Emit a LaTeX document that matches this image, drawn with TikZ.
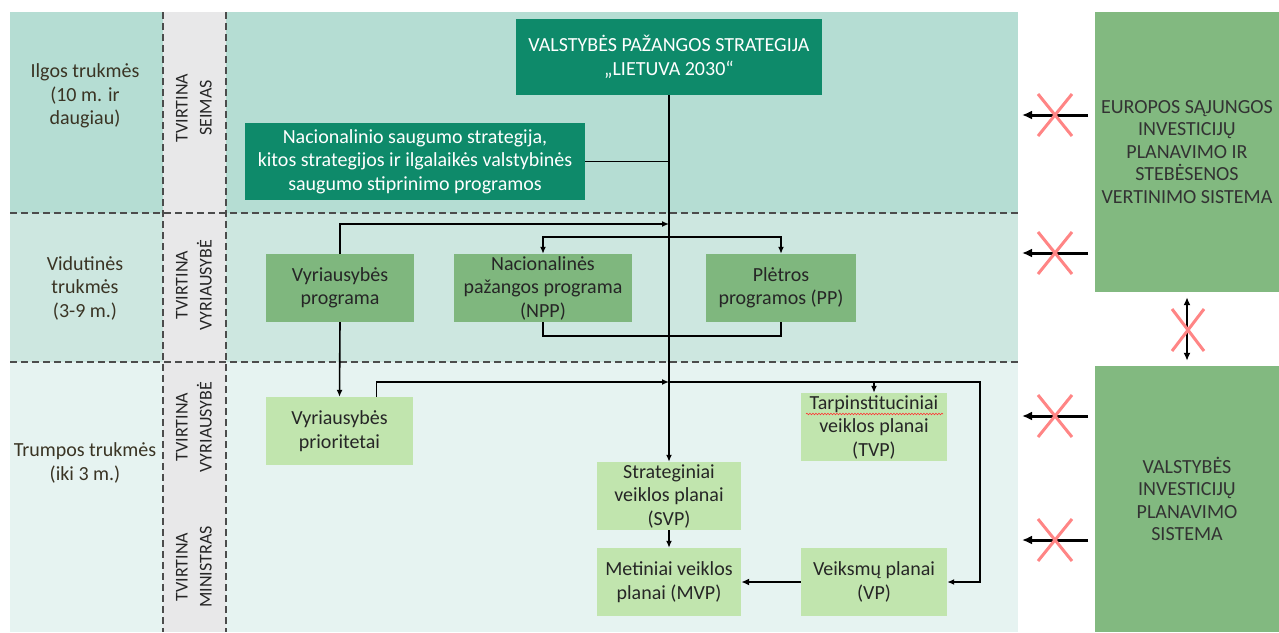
\documentclass[tikz,border=0pt]{standalone}
\usepackage{fontspec}
\setmainfont{Carlito}
\usetikzlibrary{arrows.meta, positioning, decorations.pathmorphing}

\definecolor{bandA}{HTML}{B5DDD3}
\definecolor{bandB}{HTML}{CDE7E0}
\definecolor{bandC}{HTML}{E6F3F1}
\definecolor{colgray}{HTML}{E8E8E9}
\definecolor{darkgreen}{HTML}{0E8A6A}
\definecolor{midgreen}{HTML}{7FB77E}
\definecolor{lightgreen}{HTML}{C1E5AE}
\definecolor{sidegreen}{HTML}{82B980}
\definecolor{crossred}{HTML}{FF8585}
\definecolor{labeltext}{HTML}{3A3424}

\begin{document}
\begin{tikzpicture}[x=1pt, y=-1pt,
  every node/.style={font=\fontsize{20}{23.5}\selectfont, align=center, inner sep=0pt},
  darkbox/.style={fill=darkgreen, text=white},
  midbox/.style={fill=midgreen, text=black!85},
  lightbox/.style={fill=lightgreen, text=black!85},
  sidebox/.style={fill=sidegreen, text=black!80, font=\fontsize{20}{22.5}\selectfont},
  sep/.style={draw=black!70, dash pattern=on 7pt off 4pt, line width=1.4pt},
  conn/.style={line width=1.6pt},
  arr/.style={conn, -{Latex[length=7pt,width=6pt]}},
  arrboth/.style={conn, {Latex[length=7pt,width=6pt]}-{Latex[length=7pt,width=6pt]}},
  sidearr/.style={line width=3pt, -{Latex[length=10pt,width=9pt]}},
  cross/.style={crossred, line width=3pt},
  rotlabel/.style={rotate=90, font=\fontsize{18}{24}\selectfont, text=black!85}
]
\useasboundingbox (0,0) rectangle (1279,632);

% laiko juostos
\fill[bandA] (10,12) rectangle (1018,213);
\fill[bandB] (10,213) rectangle (1018,362);
\fill[bandC] (10,362) rectangle (1018,632);
\fill[colgray] (163,12) rectangle (226,632);
\draw[sep] (163,12) -- (163,632) (226,12) -- (226,632);
\draw[sep] (10,213) -- (1018,213) (10,362) -- (1018,362);

\node[text=labeltext] (ilgos) at (85,96) {Ilgos trukmės\\(10 m. ir\\daugiau)};
\node[text=labeltext] (vidut) at (85,288) {Vidutinės\\trukmės\\(3-9 m.)};
\node[text=labeltext] (trump) at (85,463) {Trumpos trukmės\\(iki 3 m.)};

\node[rotlabel] (tseimas) at (194,108) {TVIRTINA\\SEIMAS};
\node[rotlabel] (tvyr1) at (194,285) {TVIRTINA\\VYRIAUSYBĖ};
\node[rotlabel] (tvyr2) at (194,427) {TVIRTINA\\VYRIAUSYBĖ};
\node[rotlabel] (tmin) at (194,567) {TVIRTINA\\MINISTRAS};

% dokumentai
\node[darkbox, minimum width=306pt, minimum height=76pt] (vps) at (669,57)
  {VALSTYBĖS PAŽANGOS STRATEGIJA\\„LIETUVA 2030“};
\node[darkbox, minimum width=340pt, minimum height=77pt] (nss) at (415,161.5)
  {Nacionalinio saugumo strategija,\\kitos strategijos ir ilgalaikės valstybinės\\saugumo stiprinimo programos};
\node[midbox, minimum width=148pt, minimum height=68pt] (vpg) at (340,288) {Vyriausybės\\programa};
\node[midbox, minimum width=178pt, minimum height=68pt] (npp) at (543,288) {Nacionalinės\\pažangos programa\\(NPP)};
\node[midbox, minimum width=150pt, minimum height=68pt] (pp) at (781,288) {Plėtros\\programos (PP)};
\node[lightbox, minimum width=147pt, minimum height=68pt] (vpr) at (339.5,431) {Vyriausybės\\prioritetai};
\node[lightbox, minimum width=146pt, minimum height=68pt] (tvp) at (874,427) {Tarpinstituciniai\\veiklos planai\\(TVP)};
\node[lightbox, minimum width=144pt, minimum height=68pt] (svp) at (669,496) {Strateginiai\\veiklos planai\\(SVP)};
\node[lightbox, minimum width=144pt, minimum height=68pt] (mvp) at (669,582) {Metiniai veiklos\\planai (MVP)};
\node[lightbox, minimum width=146pt, minimum height=68pt] (vp) at (874,582) {Veiksmų planai\\(VP)};
\draw[red!80, line width=0.6pt, decorate, decoration={snake, amplitude=0.8pt, segment length=3pt}]
  (806,414) -- (943,414);

% ryšiai
\coordinate (j1) at (669,224);
\coordinate (j2) at (669,382);
\coordinate (c1) at (980,382);
\draw[conn] (nss.east) -- (nss.east -| vps.south);
\draw[arr] (vps.south) -- (svp.north);
\draw[arr] (vpg.north) |- (j1);
\draw[arrboth] (npp.north) -- ++(0,-17) -| (pp.north);
\draw[conn] (npp.south) -- ++(0,14) -| (pp.south);
\draw[arr] (vpg.south) -- (vpr.north);
\draw[arr] ([xshift=37pt]vpr.north) |- (j2);
\draw[arr] (j2) -- (c1) |- (vp.east);
\draw[arr] (tvp.north |- j2) -- (tvp.north);
\draw[arr] (svp.south) -- (mvp.north);
\draw[conn, line width=2.5pt, -{Latex[length=8pt,width=7pt]}] (vp.west) -- (mvp.east);

% investicijų sistemos
\node[sidebox, minimum width=184pt, minimum height=280pt] (eu) at (1187,152)
  {EUROPOS SĄJUNGOS\\INVESTICIJŲ\\PLANAVIMO IR\\STEBĖSENOS\\VERTINIMO SISTEMA};
\node[sidebox, minimum width=184pt, minimum height=266pt] (vips) at (1187,499)
  {VALSTYBĖS\\INVESTICIJŲ\\PLANAVIMO\\SISTEMA};

\foreach \y [count=\i] in {115,253,416,540}{
  \coordinate (s\i) at (1088,\y);
  \coordinate (t\i) at (1022,\y);
  \draw[sidearr] (s\i) -- (t\i);
  \draw[cross] (1038,\y-21) -- (1072,\y+21) (1038,\y+21) -- (1072,\y-21);
}
\draw[line width=2pt, {Latex[length=8pt,width=7pt]}-{Latex[length=8pt,width=7pt]}]
  ([yshift=-5pt]eu.south) -- ([yshift=5pt]vips.north);
\draw[cross] (1172,309) -- (1204,351) (1172,351) -- (1204,309);
\end{tikzpicture}
\end{document}
